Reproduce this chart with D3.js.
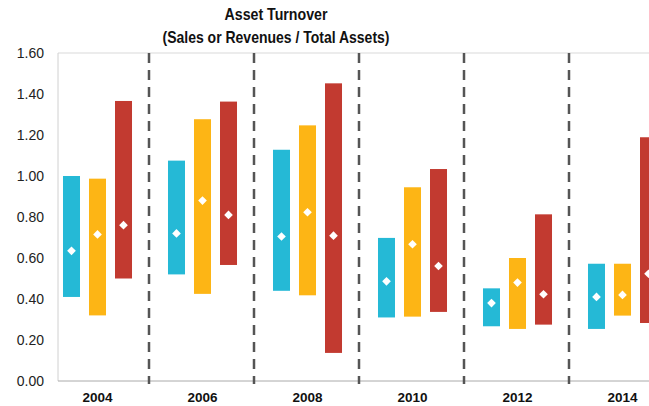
<!DOCTYPE html>
<html>
<head>
<meta charset="utf-8">
<script src="https://cdn.jsdelivr.net/npm/d3@7"></script>
<style>
  body { margin: 0; background: #fff; }
  text { font-family: "Liberation Sans", Arial, sans-serif; }
</style>
</head>
<body>
<svg id="chart" width="649" height="406"></svg>
<script>
const years = ['2004', '2006', '2008', '2010', '2012', '2014'];
const seriesNames = ['a', 'b', 'c'];
const seriesColors = ['#25b9d6', '#fdb515', '#c23a30'];
// [low, high, mid] per series, per year
const lows  = [[0.41, 0.32, 0.50], [0.52, 0.425, 0.566], [0.44, 0.418, 0.137],
               [0.31, 0.314, 0.337], [0.267, 0.254, 0.275], [0.254, 0.319, 0.283]];
const highs = [[1.00, 0.987, 1.366], [1.075, 1.277, 1.363], [1.128, 1.247, 1.452],
               [0.698, 0.945, 1.034], [0.452, 0.60, 0.813], [0.572, 0.572, 1.189]];
const mids  = [[0.635, 0.715, 0.76], [0.72, 0.88, 0.81], [0.705, 0.823, 0.709],
               [0.486, 0.667, 0.561], [0.38, 0.48, 0.423], [0.41, 0.42, 0.523]];
const yTicks = [0, 0.2, 0.4, 0.6, 0.8, 1.0, 1.2, 1.4, 1.6];

const svg = d3.select('#chart');
const plotLeft = 58, plotTop = 53, plotBottom = 381, plotRight = 649;

const x = d3.scaleBand().domain(years).range([45, 675]);
const xs = d3.scaleBand().domain(seriesNames).range([0, x.bandwidth()]).paddingInner(0.346).paddingOuter(0.692);
const y = d3.scaleLinear().domain([0, 1.6]).range([plotBottom, plotTop]);

// frame
svg.append('line').attr('x1', plotLeft).attr('x2', plotRight).attr('y1', plotTop).attr('y2', plotTop)
  .attr('stroke', '#d9d9d9').attr('stroke-width', 1);
svg.append('line').attr('x1', plotLeft).attr('x2', plotLeft).attr('y1', plotTop).attr('y2', plotBottom)
  .attr('stroke', '#d0d0d0').attr('stroke-width', 1);

// y axis labels
svg.selectAll('.ytick').data(yTicks).enter()
  .append('text')
  .attr('x', 44)
  .attr('y', d => y(d))
  .attr('dy', '0.35em')
  .attr('text-anchor', 'end')
  .attr('font-size', 14)
  .attr('fill', '#222')
  .text(d => d.toFixed(2));

// bars
const rows = [];
years.forEach((yr, i) => seriesNames.forEach((s, j) => {
  rows.push({year: yr, s: s, color: seriesColors[j], lo: lows[i][j], hi: highs[i][j], mid: mids[i][j]});
}));

svg.selectAll('rect.bar').data(rows).enter()
  .append('rect')
  .attr('class', 'bar')
  .attr('x', d => x(d.year) + xs(d.s))
  .attr('width', xs.bandwidth())
  .attr('y', d => y(d.hi))
  .attr('height', d => y(d.lo) - y(d.hi))
  .attr('fill', d => d.color);

// diamonds
const diamond = d3.symbol().type(d3.symbolDiamond2).size(48);
svg.selectAll('path.mid').data(rows).enter()
  .append('path')
  .attr('class', 'mid')
  .attr('d', diamond)
  .attr('transform', d => `translate(${x(d.year) + xs(d.s) + xs.bandwidth() / 2},${y(d.mid)})`)
  .attr('fill', '#fff');

// bottom axis line
svg.append('line').attr('x1', plotLeft).attr('x2', plotRight).attr('y1', plotBottom).attr('y2', plotBottom)
  .attr('stroke', '#aaa').attr('stroke-width', 1);

// dashed dividers
svg.selectAll('line.div').data(years.slice(1)).enter()
  .append('line')
  .attr('x1', d => x(d) - 1).attr('x2', d => x(d) - 1)
  .attr('y1', plotTop).attr('y2', plotBottom + 3)
  .attr('stroke', '#555')
  .attr('stroke-width', 2.5)
  .attr('stroke-dasharray', '10,7');

// x labels
svg.selectAll('.xlab').data(years).enter()
  .append('text')
  .attr('x', d => x(d) + x.bandwidth() / 2)
  .attr('y', 402)
  .attr('text-anchor', 'middle')
  .attr('font-size', 13.5)
  .attr('font-weight', 'bold')
  .attr('fill', '#111')
  .text(d => d);

// title
const title = svg.append('text').attr('text-anchor', 'middle').attr('font-size', 16.5)
  .attr('font-weight', 'bold').attr('fill', '#111');
title.append('tspan').attr('x', 276).attr('y', 20)
  .attr('textLength', 103).attr('lengthAdjust', 'spacingAndGlyphs').text('Asset Turnover');
title.append('tspan').attr('x', 276).attr('y', 43)
  .attr('textLength', 227).attr('lengthAdjust', 'spacingAndGlyphs').text('(Sales or Revenues / Total Assets)');
</script>
</body>
</html>
